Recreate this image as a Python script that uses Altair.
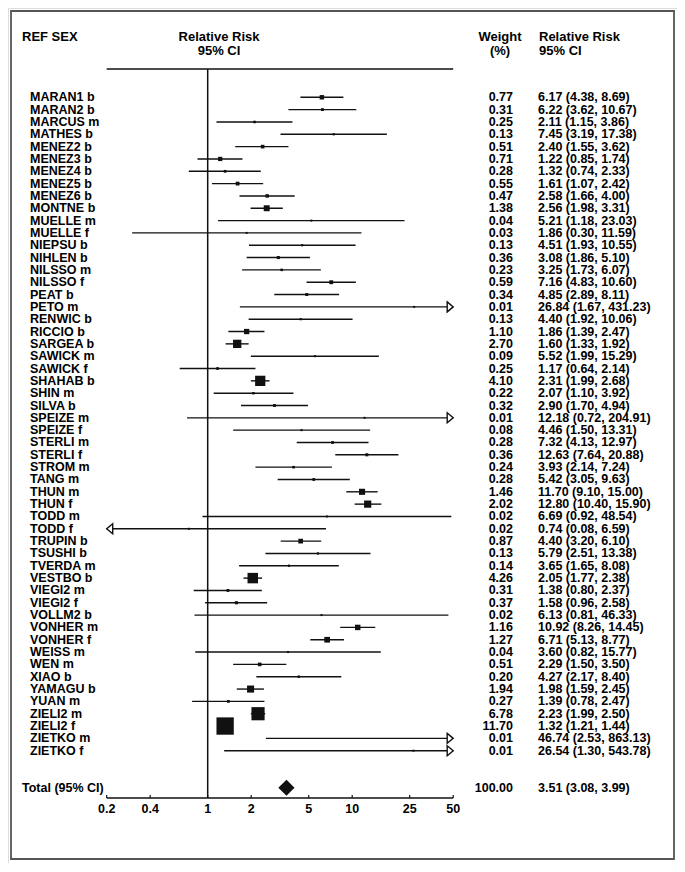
import altair as alt
import pandas as pd

# ---------------- data ----------------
studies = ["MARAN1 b", "MARAN2 b", "MARCUS m", "MATHES b", "MENEZ2 b", "MENEZ3 b", "MENEZ4 b",
           "MENEZ5 b", "MENEZ6 b", "MONTNE b", "MUELLE m", "MUELLE f", "NIEPSU b", "NIHLEN b",
           "NILSSO m", "NILSSO f", "PEAT b", "PETO m", "RENWIC b", "RICCIO b", "SARGEA b",
           "SAWICK m", "SAWICK f", "SHAHAB b", "SHIN m", "SILVA b", "SPEIZE m", "SPEIZE f",
           "STERLI m", "STERLI f", "STROM m", "TANG m", "THUN m", "THUN f", "TODD m", "TODD f",
           "TRUPIN b", "TSUSHI b", "TVERDA m", "VESTBO b", "VIEGI2 m", "VIEGI2 f", "VOLLM2 b",
           "VONHER m", "VONHER f", "WEISS m", "WEN m", "XIAO b", "YAMAGU b", "YUAN m",
           "ZIELI2 m", "ZIELI2 f", "ZIETKO m", "ZIETKO f"]
weights = [0.77, 0.31, 0.25, 0.13, 0.51, 0.71, 0.28, 0.55, 0.47, 1.38, 0.04, 0.03, 0.13, 0.36,
           0.23, 0.59, 0.34, 0.01, 0.13, 1.10, 2.70, 0.09, 0.25, 4.10, 0.22, 0.32, 0.01, 0.08,
           0.28, 0.36, 0.24, 0.28, 1.46, 2.02, 0.02, 0.02, 0.87, 0.13, 0.14, 4.26, 0.31, 0.37,
           0.02, 1.16, 1.27, 0.04, 0.51, 0.20, 1.94, 0.27, 6.78, 11.70, 0.01, 0.01]
rr = [6.17, 6.22, 2.11, 7.45, 2.40, 1.22, 1.32, 1.61, 2.58, 2.56, 5.21, 1.86, 4.51, 3.08,
      3.25, 7.16, 4.85, 26.84, 4.40, 1.86, 1.60, 5.52, 1.17, 2.31, 2.07, 2.90, 12.18, 4.46,
      7.32, 12.63, 3.93, 5.42, 11.70, 12.80, 6.69, 0.74, 4.40, 5.79, 3.65, 2.05, 1.38, 1.58,
      6.13, 10.92, 6.71, 3.60, 2.29, 4.27, 1.98, 1.39, 2.23, 1.32, 46.74, 26.54]
ci_low = [4.38, 3.62, 1.15, 3.19, 1.55, 0.85, 0.74, 1.07, 1.66, 1.98, 1.18, 0.30, 1.93, 1.86,
          1.73, 4.83, 2.89, 1.67, 1.92, 1.39, 1.33, 1.99, 0.64, 1.99, 1.10, 1.70, 0.72, 1.50,
          4.13, 7.64, 2.14, 3.05, 9.10, 10.40, 0.92, 0.08, 3.20, 2.51, 1.65, 1.77, 0.80, 0.96,
          0.81, 8.26, 5.13, 0.82, 1.50, 2.17, 1.59, 0.78, 1.99, 1.21, 2.53, 1.30]
ci_high = [8.69, 10.67, 3.86, 17.38, 3.62, 1.74, 2.33, 2.42, 4.00, 3.31, 23.03, 11.59, 10.55, 5.10,
           6.07, 10.60, 8.11, 431.23, 10.06, 2.47, 1.92, 15.29, 2.14, 2.68, 3.92, 4.94, 204.91, 13.31,
           12.97, 20.88, 7.24, 9.63, 15.00, 15.90, 48.54, 6.59, 6.10, 13.38, 8.08, 2.38, 2.37, 2.58,
           46.33, 14.45, 8.77, 15.77, 3.50, 8.40, 2.45, 2.47, 2.50, 1.44, 863.13, 543.78]

total_label = "Total (95% CI)"
total_weight = 100.00
total_rr = 3.51
total_low = 3.08
total_high = 3.99

tick_values = [0.2, 0.4, 1, 2, 5, 10, 25, 50]
tick_labels = ["0.2", "0.4", "1", "2", "5", "10", "25", "50"]

X_MIN, X_MAX = 0.2, 50

# ---------------- tables ----------------
df = pd.DataFrame({"study": studies, "weight": weights, "rr": rr, "lo": ci_low, "hi": ci_high})
df["row"] = range(len(df))
df["lo_c"] = df["lo"].clip(lower=X_MIN)
df["hi_c"] = df["hi"].clip(upper=X_MAX)
df["w_txt"] = df["weight"].map(lambda v: f"{v:.2f}")
df["rr_txt"] = [f"{a:.2f} ({b:.2f}, {c:.2f})" for a, b, c in zip(df.rr, df.lo, df.hi)]

right_arrows = df[df["hi"] > X_MAX].assign(xa=X_MAX)
left_arrows = df[df["lo"] < X_MIN].assign(xa=X_MIN)

TOTAL_ROW = 56
total_df = pd.DataFrame({"label": [total_label], "w_txt": [f"{total_weight:.2f}"],
                         "rr_txt": [f"{total_rr:.2f} ({total_low:.2f}, {total_high:.2f})"]})
diamond = pd.DataFrame({"x": [total_low, total_rr, total_high],
                        "y": [TOTAL_ROW, TOTAL_ROW - 0.65, TOTAL_ROW],
                        "y2": [TOTAL_ROW, TOTAL_ROW + 0.65, TOTAL_ROW]})
ticks = pd.DataFrame({"v": tick_values, "lab": tick_labels})
span = pd.DataFrame({"a": [X_MIN], "b": [X_MAX], "one": [1]})

# ---------------- scales ----------------
xs = alt.Scale(type="log", domain=[X_MIN, X_MAX], range=[98.7, 445.2])
ys = alt.Scale(domain=[0, 53], range=[89.3, 742.7], zero=False, nice=False)
FONT = "Liberation Sans"
INK = "#111111"
FS = 12.5

Y = alt.Y("row:Q", scale=ys, axis=None)

ci = alt.Chart(df).mark_rule(color=INK, strokeWidth=1.4).encode(
    x=alt.X("lo_c:Q", scale=xs, axis=None), x2="hi_c:Q", y=Y)
boxes = alt.Chart(df).mark_square(color=INK, opacity=1).encode(
    x=alt.X("rr:Q", scale=xs, axis=None), y=Y,
    size=alt.Size("weight:Q", scale=alt.Scale(type="linear", domain=[0, 11.7], range=[0, 300], zero=True),
                  legend=None))
dots = alt.Chart(df).mark_square(color=INK, size=4, opacity=1).encode(
    x=alt.X("rr:Q", scale=xs, axis=None), y=Y)
arr_r = alt.Chart(right_arrows).mark_point(shape="M-0.6,-1L0.6,0L-0.6,1Z", filled=True, fill="white",
                                           stroke=INK, strokeWidth=1.4, size=100, opacity=1,
                                           xOffset=-3).encode(
    x=alt.X("xa:Q", scale=xs, axis=None), y=Y)
arr_l = alt.Chart(left_arrows).mark_point(shape="M0.6,-1L-0.6,0L0.6,1Z", filled=True, fill="white",
                                          stroke=INK, strokeWidth=1.4, size=100, opacity=1,
                                          xOffset=3).encode(
    x=alt.X("xa:Q", scale=xs, axis=None), y=Y)

names = alt.Chart(df).mark_text(align="left", baseline="middle", font=FONT, fontWeight="bold",
                                fontSize=FS, color="black").encode(
    x=alt.value(22), y=Y, text="study:N")
wtxt = alt.Chart(df).mark_text(align="right", baseline="middle", font=FONT, fontWeight="bold",
                               fontSize=FS, color="black").encode(
    x=alt.value(505), y=Y, text="w_txt:N")
rtxt = alt.Chart(df).mark_text(align="left", baseline="middle", font=FONT, fontWeight="bold",
                               fontSize=FS, color="black").encode(
    x=alt.value(530), y=Y, text="rr_txt:N")

tot_y = 779.7
tot_name = alt.Chart(total_df).mark_text(align="left", baseline="middle", font=FONT, fontWeight="bold",
                                         fontSize=FS, color="black").encode(
    x=alt.value(14), y=alt.value(tot_y), text="label:N")
tot_w = alt.Chart(total_df).mark_text(align="right", baseline="middle", font=FONT, fontWeight="bold",
                                      fontSize=FS, color="black").encode(
    x=alt.value(505), y=alt.value(tot_y), text="w_txt:N")
tot_r = alt.Chart(total_df).mark_text(align="left", baseline="middle", font=FONT, fontWeight="bold",
                                      fontSize=FS, color="black").encode(
    x=alt.value(530), y=alt.value(tot_y), text="rr_txt:N")
dia = alt.Chart(diamond).mark_area(color=INK, opacity=1).encode(
    x=alt.X("x:Q", scale=xs, axis=None), y=alt.Y("y:Q", scale=ys, axis=None), y2="y2:Q")

top_line = alt.Chart(span).mark_rule(color=INK, strokeWidth=1.5).encode(
    x=alt.X("a:Q", scale=xs, axis=None), x2="b:Q", y=alt.value(61))
axis_line = alt.Chart(span).mark_rule(color=INK, strokeWidth=1.5).encode(
    x=alt.X("a:Q", scale=xs, axis=None), x2="b:Q", y=alt.value(790))
null_line = alt.Chart(span).mark_rule(color=INK, strokeWidth=1.5).encode(
    x=alt.X("one:Q", scale=xs, axis=None), y=alt.value(61), y2=alt.value(790))
tick_marks = alt.Chart(ticks).mark_rule(color=INK, strokeWidth=1.2).encode(
    x=alt.X("v:Q", scale=xs, axis=None), y=alt.value(787), y2=alt.value(790))
tick_text = alt.Chart(ticks).mark_text(align="center", baseline="middle", font=FONT, fontWeight="bold",
                                       fontSize=FS, color="black").encode(
    x=alt.X("v:Q", scale=xs, axis=None), y=alt.value(801), text="lab:N")

def header(txt, x, y, align):
    return alt.Chart(pd.DataFrame({"t": [txt]})).mark_text(
        align=align, baseline="middle", font=FONT, fontWeight="bold", fontSize=FS + 0.5,
        color="black").encode(x=alt.value(x), y=alt.value(y), text="t:N")

headers = [
    header("REF SEX", 14, 29, "left"),
    header("Relative Risk", 211, 29, "center"),
    header("95% CI", 211, 42.5, "center"),
    header("Weight", 492, 29, "center"),
    header("(%)", 492, 42.5, "center"),
    header("Relative Risk", 531, 29, "left"),
    header("95% CI", 531, 42.5, "left"),
]

border = alt.Chart(pd.DataFrame({"k": [0]})).mark_rect(filled=False, stroke="#555555",
                                                       strokeWidth=1.8).encode(
    x=alt.value(3), x2=alt.value(666), y=alt.value(3), y2=alt.value(851))

chart = alt.layer(
    border, top_line, null_line, axis_line, tick_marks, tick_text,
    ci, boxes, dots, arr_r, arr_l, names, wtxt, rtxt,
    dia, tot_name, tot_w, tot_r, *headers
).properties(
    width=669, height=855, padding=0,
    autosize=alt.AutoSizeParams(type="fit", contains="padding"),
).configure_view(stroke=None).configure(background="white")

chart.save("out.html", embed_options={"renderer": "svg", "actions": False})
